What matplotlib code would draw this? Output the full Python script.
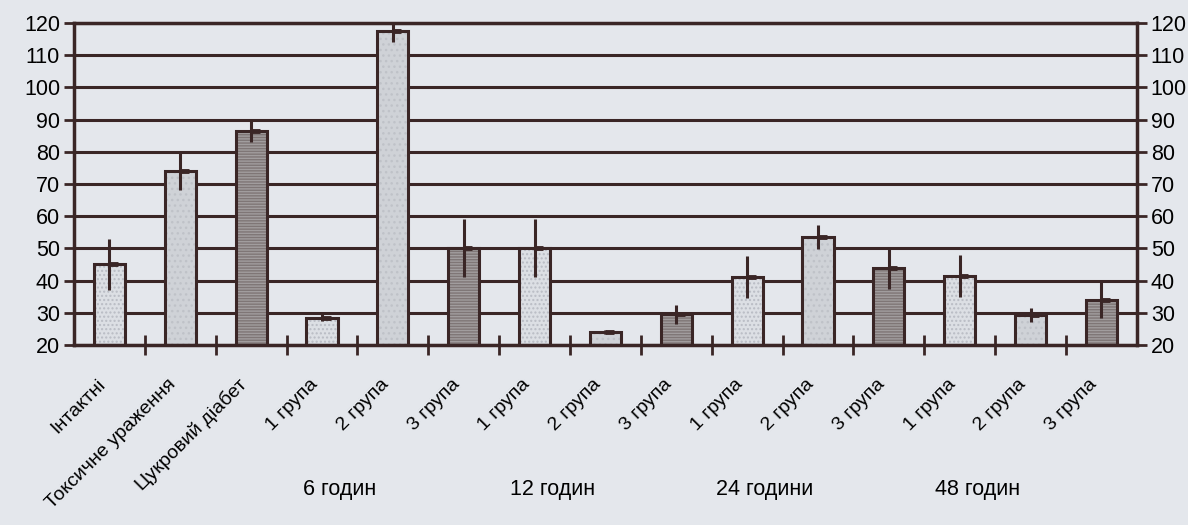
import numpy as np
import matplotlib
matplotlib.use("Agg")
import matplotlib.pyplot as plt
from matplotlib.transforms import ScaledTranslation, blended_transform_factory

plt.rcParams["font.family"] = ["Liberation Sans", "DejaVu Sans"]
plt.rcParams["hatch.linewidth"] = 1.0

# Bar values (mean) and error half-widths per category
categories = [
    "Інтактні", "Токсичне ураження", "Цукровий діабет",
    "1 група", "2 група", "3 група",
    "1 група", "2 група", "3 група",
    "1 група", "2 група", "3 група",
    "1 група", "2 група", "3 група",
]
means = [45, 74, 86.5, 28.5, 117.5, 50, 50, 24, 29.5, 41, 53.5, 44, 41.5, 29.3, 34]
errors = [8, 6, 3.5, 1, 3.5, 9, 9, 0.6, 3, 6.5, 3.8, 6.5, 6.5, 2.2, 5.5]
# fill style per bar: 0 = light dotted, 1 = light speckled, 2 = dark lined
styles = [0, 1, 2, 0, 1, 2, 0, 1, 2, 0, 1, 2, 0, 1, 2]
period_labels = ["6 годин", "12 годин", "24 години", "48 годин"]
period_first = [3, 6, 9, 12]

DARK = "#3a2626"
BG = "#e4e7ec"
fills = {0: ("#dcdfe4", "#b9bcc4", "...."),
         1: ("#cfd2d7", "#bfc2c8", "..."),
         2: ("#a19d9e", "#7f7676", "------")}

fig = plt.figure(figsize=(11.88, 5.25), dpi=100, facecolor=BG)
ax = fig.add_axes([0.0623, 0.343, 0.8947, 0.613])
ax.set_facecolor(BG)

x = np.arange(len(categories))
width = 0.44

ax.set_axisbelow(True)
ax.yaxis.grid(True, color=DARK, lw=2.2)

for xi, m, s in zip(x, means, styles):
    face, hcol, hatch = fills[s]
    ax.bar(xi, m - 20, bottom=20, width=width, color=face, edgecolor=hcol,
           hatch=hatch, lw=0, zorder=2)
    ax.bar(xi, m - 20, bottom=20, width=width, fill=False, edgecolor=DARK,
           lw=2.2, zorder=3)

ax.errorbar(x, means, yerr=errors, fmt="none", ecolor=DARK, elinewidth=2.2,
            capsize=0, zorder=4)
# short mean tick on the right side of each error line
ax.hlines(means, x, x + 0.12, color=DARK, lw=3.5, zorder=4)

ax.set_xlim(-0.5, len(categories) - 0.5)
ax.set_ylim(20, 120)
ax.set_yticks(np.arange(20, 121, 10))

for side in ["left", "right", "bottom", "top"]:
    ax.spines[side].set_color(DARK)
    ax.spines[side].set_linewidth(2.5)

ax.tick_params(axis="y", which="major", labelsize=15.5, length=7, width=2,
               color=DARK, direction="out", left=True, right=True,
               labelleft=True, labelright=True, pad=3)

# boundary ticks between categories, labels at the category centres
ax.set_xticks(x[:-1] + 0.5, minor=True)
ax.tick_params(axis="x", which="minor", length=15, width=2, color=DARK,
               direction="inout")
ax.set_xticks(x)
ax.set_xticklabels(categories, rotation=45, ha="right",
                   rotation_mode="anchor", fontsize=14)
ax.tick_params(axis="x", which="major", length=0, pad=22)
shift = ScaledTranslation(-0.13, 0, fig.dpi_scale_trans)
for lab in ax.get_xticklabels():
    lab.set_transform(lab.get_transform() + shift)

trans = blended_transform_factory(ax.transData, fig.transFigure)
for label, first in zip(period_labels, period_first):
    ax.text(first + 1 - 0.75, 0.067, label, transform=trans, fontsize=15.5,
            ha="center", va="center", color="black")

fig.savefig("out.png", dpi=100, facecolor=BG)
